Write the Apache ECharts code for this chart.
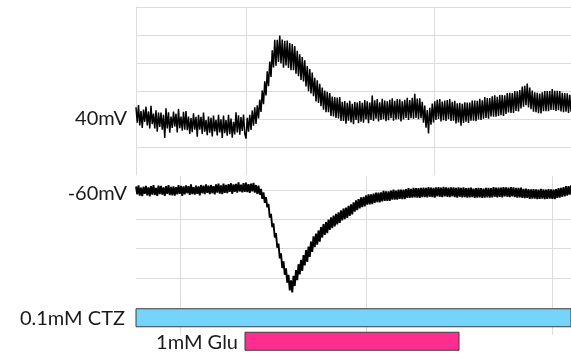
<!DOCTYPE html>
<html>
<head>
<meta charset="utf-8">
<script src="https://cdn.jsdelivr.net/npm/echarts@6/dist/echarts.min.js"></script>
<style>
  html, body { margin: 0; padding: 0; background: #fff; }
  #main { width: 571px; height: 360px; }
</style>
</head>
<body>
<div id="main"></div>
<script>
// current traces, one sample every ~1.25 px
var trace40 = [
  4.2,-1.3,5.0,-2.3,2.8,-3.2,3.4,-1.0,4.4,-2.3,
  2.7,-3.4,4.7,-1.8,1.9,-3.4,3.1,-4.5,2.3,-2.8,
  2.3,-3.8,1.5,-6.8,3.8,-3.4,2.4,-4.9,0.9,-3.2,
  2.7,-2.7,1.9,-4.8,3.6,-3.3,0.9,-4.2,2.6,-3.8,
  2.8,-4.0,0.9,-5.3,0.3,-4.7,2.0,-3.8,0.8,-6.3,
  1.5,-3.8,0.8,-5.3,2.3,-4.5,-0.4,-5.8,0.9,-4.9,
  0.4,-6.2,1.2,-4.4,-0.3,-5.9,1.5,-4.8,-0.1,-6.8,
  1.2,-5.1,-0.4,-6.0,1.5,-5.4,0.2,-6.7,-1.0,-5.5,
  2.4,-4.8,1.3,-5.6,0.7,-4.3,1.6,-5.2,-7.0,0.4,
  -4.5,1.5,-3.9,3.0,-2.4,4.2,-1.8,4.9,0.2,6.9,
  2.5,10.2,5.3,13.5,8.4,17.0,11.7,20.5,15.0,24.5,
  18.4,28.3,19.0,28.3,20.4,29.8,19.8,28.4,18.3,27.9,
  19.1,28.0,18.2,27.1,17.4,26.8,17.4,26.1,16.2,24.4,
  15.3,23.1,13.9,22.1,13.4,21.0,11.6,18.9,9.9,17.8,
  9.1,16.6,8.1,14.7,6.3,13.8,5.7,12.6,4.6,11.2,
  3.3,10.2,2.4,9.7,2.4,9.3,1.1,8.0,0.9,7.8,
  0.4,7.7,0.2,7.8,-0.7,6.1,-0.7,6.4,-1.7,5.8,
  -0.6,6.5,-1.2,5.4,-1.9,6.1,-0.3,5.9,-1.5,6.4,
  -1.0,5.8,-1.3,6.8,-0.2,6.3,-1.5,5.9,-0.3,8.4,
  -0.7,6.7,0.1,7.1,-0.9,6.0,-0.3,7.2,-0.1,6.6,
  -0.8,6.3,-0.4,6.9,0.3,7.4,-0.6,6.5,-0.2,7.1,
  -0.1,7.0,-0.9,6.3,-0.2,6.9,0.4,7.6,-0.3,6.8,
  0.3,7.6,0.1,9.0,0.4,7.3,-0.1,7.4,0.3,6.1,
  -1.3,4.8,-3.1,3.2,-5.2,4.0,-2.0,5.5,-1.2,6.3,
  -0.3,6.9,0.0,7.1,-0.9,6.2,-0.4,6.6,-0.7,6.8,
  -0.1,7.1,-0.7,6.1,-0.6,6.5,-1.6,5.6,-1.2,5.8,
  -2.4,5.4,-1.4,6.0,-1.0,5.9,-1.4,5.9,-0.6,6.6,
  -0.6,6.6,-0.8,6.5,-0.2,7.2,-0.3,6.7,0.1,7.8,
  0.4,7.5,0.1,7.5,0.9,8.1,0.8,8.5,0.8,7.9,
  1.1,8.6,1.4,8.6,1.1,8.5,1.8,9.3,2.3,9.4,
  2.2,9.3,2.2,10.0,2.9,9.9,2.7,10.3,3.8,11.6,
  4.4,11.9,4.9,12.7,4.1,11.2,3.5,10.2,2.6,9.5,
  2.4,9.4,2.1,9.1,2.0,9.5,2.8,10.0,2.8,10.0,
  2.8,10.0,3.2,10.7,3.2,10.1,2.9,10.1,3.1,10.0,
  2.7,9.4,2.4,9.3,2.6,9.2,2.2,8.6,2.6
];
var traceMinus60 = [
  1.2,-1.5,1.6,-1.9,0.8,-2.1,1.1,-1.3,1.4,-1.8,
  0.9,-2.2,1.3,-1.6,1.7,-1.7,0.7,-2.0,1.5,-1.4,
  1.4,-1.6,0.9,-2.0,1.3,-1.3,1.7,-1.7,1.1,-1.8,
  1.2,-1.9,1.0,-1.5,1.7,-1.3,1.4,-2.0,1.2,-1.5,
  1.6,-1.1,1.3,-1.7,1.9,-1.4,1.0,-1.6,1.5,-1.3,
  1.2,-1.8,1.7,-1.1,1.5,-1.4,1.9,-1.0,1.5,-1.4,
  1.7,-1.1,1.3,-1.5,1.9,-0.9,2.2,-1.2,1.6,-1.4,
  2.2,-1.0,1.7,-1.1,2.0,-0.6,2.3,-1.3,1.9,-0.6,
  2.1,-0.9,2.6,-0.5,1.8,-0.8,2.3,-0.6,2.5,-0.7,
  2.0,-1.0,2.2,-0.5,2.4,-0.9,1.7,-1.3,1.5,-1.6,
  0.4,-3.0,-0.8,-4.4,-2.4,-5.9,-4.7,-9.4,-8.1,-12.7,
  -11.4,-16.2,-14.7,-19.7,-18.3,-23.3,-21.6,-26.6,-24.3,-28.9,
  -26.7,-31.6,-28.9,-34.2,-30.8,-34.9,-29.3,-32.7,-27.3,-30.7,
  -25.3,-28.8,-23.8,-27.6,-22.2,-25.7,-20.5,-24.5,-19.3,-22.8,
  -17.6,-21.1,-15.8,-19.5,-14.9,-18.6,-13.8,-17.6,-12.6,-16.2,
  -11.6,-15.3,-10.9,-14.7,-10.1,-13.6,-9.3,-13.0,-8.7,-12.4,
  -8.1,-11.7,-7.6,-11.2,-6.9,-10.4,-6.3,-9.9,-6.0,-9.5,
  -5.4,-8.8,-4.9,-8.3,-4.2,-7.4,-3.5,-6.9,-3.1,-6.3,
  -2.5,-5.8,-2.3,-5.6,-1.8,-5.0,-1.5,-4.9,-1.5,-4.8,
  -1.2,-4.4,-0.9,-4.1,-0.9,-4.2,-0.8,-3.9,-0.3,-3.7,
  -0.5,-3.7,-0.5,-3.7,-0.2,-3.3,0.1,-3.3,-0.2,-3.3,
  0.1,-3.0,0.1,-3.1,0.1,-3.1,0.3,-2.7,0.6,-2.7,
  0.4,-2.6,0.7,-2.5,0.6,-2.6,0.6,-2.7,0.7,-2.4,
  0.8,-2.4,0.7,-2.5,1.0,-2.3,0.8,-2.4,0.7,-2.6,
  0.9,-2.2,1.0,-2.3,0.8,-2.4,1.1,-2.2,0.9,-2.3,
  0.8,-2.4,0.9,-2.2,0.9,-2.4,0.7,-2.6,0.9,-2.3,
  0.7,-2.5,0.9,-2.4,0.6,-2.6,0.7,-2.5,0.8,-2.4,
  0.5,-2.7,0.6,-2.6,0.7,-2.5,0.6,-2.7,0.5,-2.6,
  0.7,-2.5,0.7,-2.6,0.6,-2.5,1.0,-2.3,0.8,-2.5,
  0.8,-2.3,0.8,-2.5,1.0,-2.2,0.9,-2.3,0.8,-2.4,
  1.0,-2.2,0.9,-2.4,0.7,-2.6,0.7,-2.5,0.8,-2.7,
  0.4,-2.8,0.5,-2.7,0.3,-3.0,0.2,-2.9,0.3,-2.9,
  0.2,-3.1,0.1,-3.0,0.4,-2.9,0.2,-3.1,0.1,-3.0,
  0.3,-2.9,0.2,-3.0,0.1,-3.1,0.3,-2.7,0.6,-2.6,
  0.7,-2.3,1.0,-2.2,1.3,-1.9,1.3,-1.6,1.6
];
var holdLabels = ['40mV', '-60mV'];

// drug application bars, in sample units
var stimNames = ['0.1mM CTZ', '1mM Glu'];
var stimStart = [0, 87.2];
var stimEnd = [348, 258.4];

var samples = trace40.map(function (v, i) { return i; });
var stimColors = ['#74d4fc', '#ff2d8d'];
var labelGap = [11, 7];
var textFont = 'Lato, "DejaVu Sans", sans-serif';
var gridColor = '#dcdcdc';

function renderStim(params, api) {
  var row = api.value(2);
  var p0 = api.coord([api.value(0), row]);
  var p1 = api.coord([api.value(1), row]);
  var h = 18;
  return {
    type: 'group',
    children: [
      {
        type: 'rect',
        shape: { x: p0[0], y: p0[1] - h / 2, width: p1[0] - p0[0], height: h },
        style: { fill: stimColors[params.dataIndex], stroke: '#3c3c3c', lineWidth: 1 }
      },
      {
        type: 'text',
        style: {
          text: stimNames[params.dataIndex],
          x: p0[0] - labelGap[params.dataIndex], y: p0[1] + 1,
          align: 'right', verticalAlign: 'middle',
          fontSize: 20, fontFamily: textFont, fill: '#1a1a1a'
        }
      }
    ]
  };
}

var chart = echarts.init(document.getElementById('main'));
var option = {
  animation: false,
  grid: [
    { left: 136, right: 0, top: 7, height: 168 },   // 40mV trace
    { left: 58, right: 0, top: 7, height: 168 },    // vertical lines, top panel
    { left: 136, right: 0, top: 190, height: 88 },  // -60mV trace
    { left: 180, right: 0, top: 176, height: 159 }, // vertical lines, bottom panel
    { left: 136, right: 0, top: 306, height: 47 }   // stim bars
  ],
  xAxis: [
    { gridIndex: 0, type: 'category', data: samples, boundaryGap: false, show: false },
    { gridIndex: 1, type: 'value', min: 0, max: 513, interval: 188,
      axisLine: { show: false }, axisTick: { show: false }, axisLabel: { show: false },
      splitLine: { show: true, showMinLine: false, showMaxLine: false, lineStyle: { color: gridColor } } },
    { gridIndex: 2, type: 'category', data: samples, boundaryGap: false, show: false },
    { gridIndex: 3, type: 'value', min: 0, max: 391, interval: 186,
      axisLine: { show: false }, axisTick: { show: false }, axisLabel: { show: false },
      splitLine: { show: true, showMaxLine: false, lineStyle: { color: gridColor } } },
    { gridIndex: 4, type: 'value', min: 0, max: 348, show: false }
  ],
  yAxis: [
    { gridIndex: 0, type: 'value', min: -20, max: 40, interval: 10,
      axisLine: { show: true, lineStyle: { color: gridColor } }, axisTick: { show: false },
      axisLabel: { formatter: function (v) { return v === 0 ? holdLabels[0] : ''; },
        fontSize: 20, fontFamily: textFont, color: '#1a1a1a', margin: 9 },
      splitLine: { show: true, showMinLine: false, lineStyle: { color: gridColor } } },
    { gridIndex: 1, type: 'value', show: false },
    { gridIndex: 2, type: 'value', min: -30, max: 0, interval: 10,
      axisLine: { show: false }, axisTick: { show: false },
      axisLabel: { formatter: function (v) { return v === 0 ? '{a|' + holdLabels[1] + '}' : ''; },
        margin: 9,
        rich: { a: { fontSize: 20, fontFamily: textFont, color: '#1a1a1a', padding: [8, 0, 0, 0] } } },
      splitLine: { show: true, lineStyle: { color: gridColor } } },
    { gridIndex: 3, type: 'value', show: false },
    { gridIndex: 4, type: 'category', data: stimNames, inverse: true, show: false }
  ],
  series: [
    { type: 'line', xAxisIndex: 0, yAxisIndex: 0, data: trace40, showSymbol: false,
      lineStyle: { color: '#000', width: 1.5 } },
    { type: 'line', xAxisIndex: 2, yAxisIndex: 2, data: traceMinus60, showSymbol: false, clip: false,
      lineStyle: { color: '#000', width: 1.9 } },
    { type: 'custom', xAxisIndex: 4, yAxisIndex: 4, clip: false,
      data: stimNames.map(function (n, i) { return [stimStart[i], stimEnd[i], i]; }),
      encode: { x: [0, 1], y: 2 },
      renderItem: renderStim }
  ]
};
chart.setOption(option);
</script>
</body>
</html>
